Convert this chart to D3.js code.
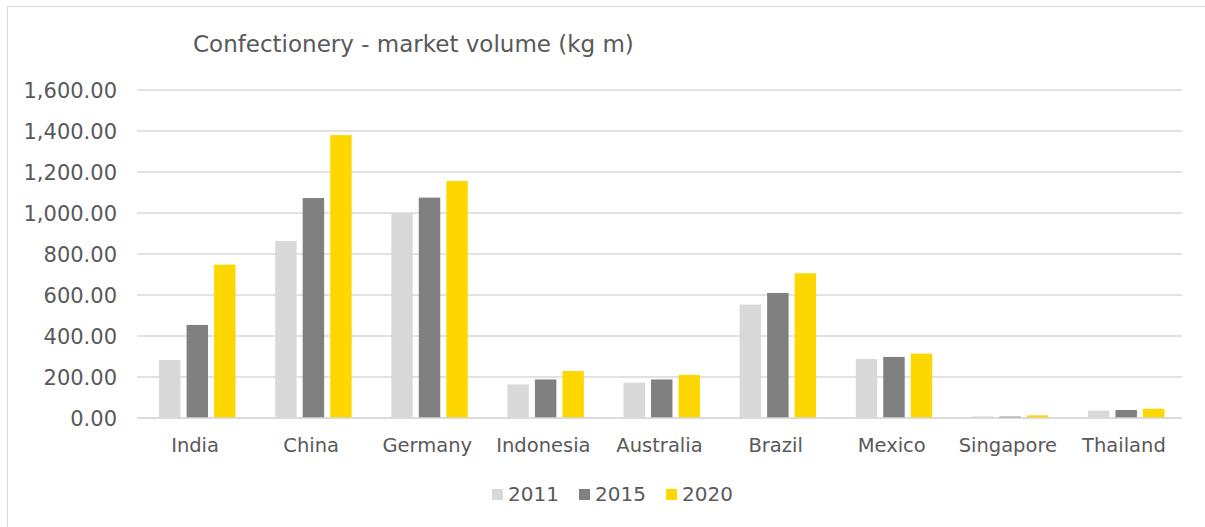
<!DOCTYPE html>
<html>
<head>
<meta charset="utf-8">
<script src="https://cdn.jsdelivr.net/npm/d3@7"></script>
<style>
  body { margin: 0; background: #fff; }
  text { font-family: "DejaVu Sans", sans-serif; fill: #595959; }
</style>
</head>
<body>
<div id="chart"></div>
<script>
var countries = ["India", "China", "Germany", "Indonesia", "Australia", "Brazil", "Mexico", "Singapore", "Thailand"];
var years = ["2011", "2015", "2020"];
var v2011 = [283, 863, 1000, 164, 172, 553, 288, 8, 36];
var v2015 = [454, 1073, 1075, 188, 188, 610, 298, 7, 39];
var v2020 = [748, 1380, 1156, 229, 210, 706, 314, 13, 45];
var yTicks = [0, 200, 400, 600, 800, 1000, 1200, 1400, 1600];
var colors = ["#d9d9d9", "#808080", "#ffd700"];

var W = 1205, H = 527;
var margin = {top: 90, right: 23, bottom: 109, left: 137};
var width = W - margin.left - margin.right,
    height = H - margin.top - margin.bottom;

var data = countries.map(function(c, i) {
  return {country: c, values: [v2011[i], v2015[i], v2020[i]]};
});

var svg = d3.select("#chart").append("svg")
    .attr("width", W)
    .attr("height", H);

// chart frame
svg.append("rect")
    .attr("x", 7.5).attr("y", 6.5)
    .attr("width", W).attr("height", H)
    .style("fill", "none")
    .style("stroke", "#d9d9d9");

var g = svg.append("g")
    .attr("transform", "translate(" + margin.left + "," + margin.top + ")");

var x = d3.scaleBand().domain(countries).range([0, width]);
var y = d3.scaleLinear().domain([0, 1600]).range([height, 0]);
var xs = d3.scaleBand().domain(years).range([0, 76.5]).paddingInner(0.22);

// gridlines
g.selectAll(".grid")
  .data(yTicks)
  .enter().append("line")
    .attr("x1", 0).attr("x2", width)
    .attr("y1", function(d) { return y(d); })
    .attr("y2", function(d) { return y(d); })
    .style("stroke", "#d9d9d9")
    .style("stroke-width", 1.5);

// y labels
g.selectAll(".ylab")
  .data(yTicks)
  .enter().append("text")
    .attr("x", -20)
    .attr("y", function(d) { return y(d); })
    .attr("dy", "0.36em")
    .attr("text-anchor", "end")
    .style("font-size", "21px")
    .text(function(d) { return d3.format(",.2f")(d); });

// bars
var groups = g.selectAll(".grp")
  .data(data)
  .enter().append("g")
    .attr("transform", function(d) {
      return "translate(" + (x(d.country) + x.bandwidth() / 2 - 36) + ",0)";
    });

groups.selectAll("rect")
  .data(function(d) { return d.values.map(function(v, i) { return {year: years[i], value: v, i: i}; }); })
  .enter().append("rect")
    .attr("x", function(d) { return xs(d.year); })
    .attr("y", function(d) { return y(d.value); })
    .attr("width", xs.bandwidth())
    .attr("height", function(d) { return height - y(d.value); })
    .style("fill", function(d) { return colors[d.i]; });

// baseline
g.append("line")
    .attr("x1", 0).attr("x2", width)
    .attr("y1", height).attr("y2", height)
    .style("stroke", "#d9d9d9")
    .style("stroke-width", 1.5);

// x labels
g.selectAll(".xlab")
  .data(countries)
  .enter().append("text")
    .attr("x", function(d) { return x(d) + x.bandwidth() / 2; })
    .attr("y", height + 34)
    .attr("text-anchor", "middle")
    .style("font-size", "19.5px")
    .text(function(d) { return d; });

// title
svg.append("text")
    .attr("x", 193)
    .attr("y", 52)
    .style("font-size", "23px")
    .text("Confectionery - market volume (kg m)");

// legend
var legX = [492, 579, 666];
var leg = svg.selectAll(".leg")
  .data(years)
  .enter().append("g")
    .attr("transform", function(d, i) { return "translate(" + legX[i] + ",489)"; });
leg.append("rect")
    .attr("width", 11).attr("height", 11)
    .style("fill", function(d, i) { return colors[i]; });
leg.append("text")
    .attr("x", 16)
    .attr("y", 12)
    .style("font-size", "20px")
    .text(function(d) { return d; });
</script>
</body>
</html>
